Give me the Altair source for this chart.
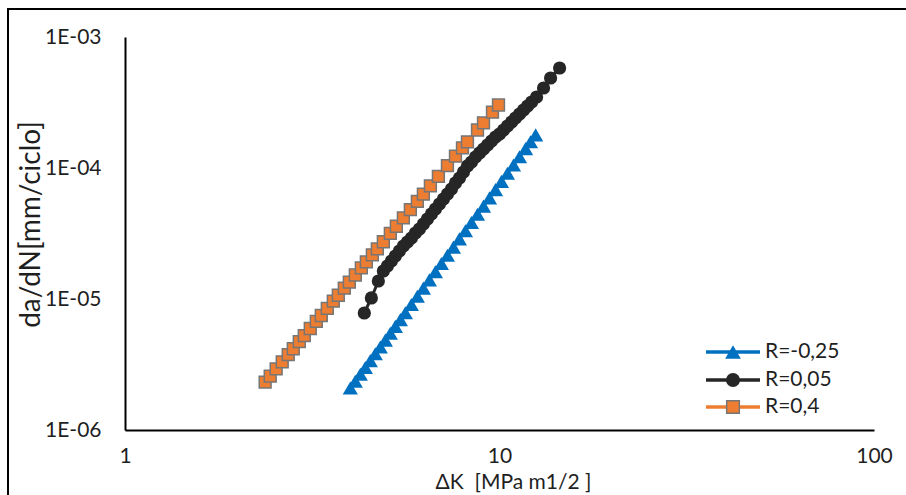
import altair as alt
import pandas as pd

SERIES = ["R=-0,25", "R=0,05", "R=0,4"]
COLORS = ["#0070C0", "#262626", "#ED7D31"]
SHAPES = ["triangle-up", "circle", "square"]

X_TICKS = [1, 10, 100]
Y_TICKS = [1e-6, 1e-5, 1e-4, 1e-3]

# R = -0,25 (blue triangles)
dk_a = [3.996, 4.121, 4.250, 4.383, 4.519, 4.660, 4.806, 4.957, 5.111, 5.271,
        5.436, 5.607, 5.817, 6.035, 6.262, 6.498, 6.743, 6.996, 7.261, 7.534,
        7.816, 8.111, 8.416, 8.735, 9.063, 9.404, 9.757, 10.12, 10.50, 10.90,
        11.31, 11.74, 12.10, 12.49]
da_a = [2.092e-6, 2.358e-6, 2.662e-6, 3.000e-6, 3.387e-6, 3.817e-6, 4.300e-6,
        4.857e-6, 5.472e-6, 6.177e-6, 6.961e-6, 7.859e-6, 9.078e-6, 1.049e-5,
        1.211e-5, 1.399e-5, 1.616e-5, 1.866e-5, 2.156e-5, 2.490e-5, 2.876e-5,
        3.322e-5, 3.837e-5, 4.432e-5, 5.119e-5, 5.914e-5, 6.840e-5, 7.901e-5,
        9.127e-5, 1.054e-4, 1.218e-4, 1.406e-4, 1.585e-4, 1.789e-4]

# R = 0,05 (black circles)
dk_b = [4.355, 4.548, 4.748, 4.896, 5.018, 5.143, 5.270, 5.402, 5.537, 5.675,
        5.817, 5.962, 6.110, 6.262, 6.419, 6.579, 6.743, 6.911, 7.083, 7.261,
        7.441, 7.628, 7.816, 8.013, 8.211, 8.416, 8.627, 8.843, 9.063, 9.289,
        9.519, 9.757, 10.00, 10.25, 10.50, 10.77, 11.03, 11.31, 11.59, 11.88,
        12.18, 12.56, 13.11, 13.69, 14.47]
da_b = [7.818e-6, 1.018e-5, 1.372e-5, 1.636e-5, 1.786e-5, 1.950e-5, 2.129e-5,
        2.325e-5, 2.539e-5, 2.723e-5, 2.922e-5, 3.190e-5, 3.422e-5, 3.737e-5,
        4.080e-5, 4.456e-5, 4.864e-5, 5.311e-5, 5.800e-5, 6.332e-5, 6.913e-5,
        7.684e-5, 8.389e-5, 9.322e-5, 1.036e-4, 1.111e-4, 1.213e-4, 1.302e-4,
        1.396e-4, 1.498e-4, 1.607e-4, 1.724e-4, 1.818e-4, 1.950e-4, 2.092e-4,
        2.244e-4, 2.408e-4, 2.583e-4, 2.771e-4, 2.973e-4, 3.190e-4, 3.483e-4,
        4.080e-4, 4.864e-4, 5.800e-4]

# R = 0,4 (orange squares)
dk_c = [2.367, 2.442, 2.533, 2.629, 2.728, 2.814, 2.920, 3.011, 3.124, 3.242,
        3.343, 3.469, 3.599, 3.712, 3.851, 3.972, 4.121, 4.276, 4.410, 4.576,
        4.718, 4.896, 5.111, 5.303, 5.537, 5.781, 6.035, 6.262, 6.538, 6.868,
        7.261, 7.628, 7.964, 8.211, 8.735, 9.063, 9.578, 9.939]
da_c = [2.323e-6, 2.578e-6, 2.924e-6, 3.314e-6, 3.757e-6, 4.171e-6, 4.727e-6,
        5.248e-6, 5.951e-6, 6.744e-6, 7.486e-6, 8.486e-6, 9.620e-6, 1.068e-5,
        1.211e-5, 1.344e-5, 1.524e-5, 1.727e-5, 1.918e-5, 2.174e-5, 2.413e-5,
        2.736e-5, 3.167e-5, 3.590e-5, 4.156e-5, 4.810e-5, 5.568e-5, 6.313e-5,
        7.306e-5, 8.636e-5, 1.042e-4, 1.232e-4, 1.426e-4, 1.584e-4, 1.951e-4,
        2.212e-4, 2.670e-4, 3.026e-4]

FONT = "Lato"
TXT = "#1f1f1f"

x_enc = alt.X(
    "dk:Q",
    scale=alt.Scale(type="log", domain=[1, 100], nice=False),
    axis=alt.Axis(values=X_TICKS, format="d", ticks=False, grid=False,
                  domainColor="black", domainWidth=2, labelFontSize=21,
                  labelColor=TXT, labelFont=FONT, labelPadding=15,
                  titleFontSize=21, titleFont=FONT, titleColor=TXT,
                  titleFontWeight="normal", titlePadding=5, titleX=388,
                  titleAlign="center",
                  labelFlush=False, labelOverlap=False),
    title="ΔK\u00a0\u00a0[MPa m1/2 ]",
)
y_enc = alt.Y(
    "dadn:Q",
    scale=alt.Scale(type="log", domain=[1e-6, 1e-3], nice=False),
    axis=alt.Axis(values=Y_TICKS,
                  labelExpr="'1E-0' + round(-log(datum.value)/LN10)",
                  ticks=False, grid=False, domainColor="black", domainWidth=2,
                  labelFontSize=21, labelColor=TXT, labelFont=FONT,
                  labelPadding=24, labelFlush=False, labelOverlap=False,
                  titleFontSize=28, titleFont=FONT, titleColor=TXT,
                  titleFontWeight="normal", titleAngle=-90,
                  titleX=-94, titleY=187, titleBaseline="middle",
                  titleAlign="center"),
    title="da/dN[mm/ciclo]",
)

series_data = [(dk_a, da_a), (dk_b, da_b), (dk_c, da_c)]
sizes = [230, 175, 140]

layers = []
# outer frame
layers.append(
    alt.Chart(alt.Data(values=[{}])).mark_rect(
        fill=None, stroke="black", strokeWidth=2
    ).encode(x=alt.value(-117), x2=alt.value(800), y=alt.value(-28), y2=alt.value(480))
)

for i, name in enumerate(SERIES):
    dk, da = series_data[i]
    df = pd.DataFrame({"dk": dk, "dadn": da, "serie": name})
    base = alt.Chart(df)
    layers.append(base.mark_line(color=COLORS[i], strokeWidth=3).encode(x=x_enc, y=y_enc))
    if SHAPES[i] == "square":
        pt = base.mark_point(shape="square", filled=True, fill=COLORS[i],
                             stroke="#767676", strokeWidth=1.5, size=sizes[i], opacity=1)
    else:
        pt = base.mark_point(shape=SHAPES[i], filled=True, color=COLORS[i],
                             size=sizes[i], opacity=1)
    layers.append(pt.encode(x=x_enc, y=y_enc))

# legend
LEG_Y = [315, 343, 370]
for i, name in enumerate(SERIES):
    one = alt.Chart(alt.Data(values=[{"label": name}]))
    layers.append(one.mark_rule(color=COLORS[i], strokeWidth=3.5).encode(
        x=alt.value(581), x2=alt.value(635), y=alt.value(LEG_Y[i])))
    if SHAPES[i] == "square":
        mk = one.mark_point(shape="square", filled=True, fill=COLORS[i],
                            stroke="#767676", strokeWidth=1.5, size=sizes[i] + 20, opacity=1)
    else:
        mk = one.mark_point(shape=SHAPES[i], filled=True, color=COLORS[i],
                            size=sizes[i] + 20, opacity=1)
    layers.append(mk.encode(x=alt.value(608), y=alt.value(LEG_Y[i])))
    layers.append(one.mark_text(align="left", baseline="middle", font=FONT,
                                fontSize=21, color=TXT).encode(
        x=alt.value(640), y=alt.value(LEG_Y[i]), text="label:N"))

chart = alt.layer(*layers).properties(
    width=749, height=393,
    autosize=alt.AutoSizeParams(type="none"),
    padding={"left": 125, "top": 37, "right": 32, "bottom": 65},
    background="white",
).configure_view(stroke=None)

chart.save("out.html", embed_options={"renderer": "svg", "actions": False})
